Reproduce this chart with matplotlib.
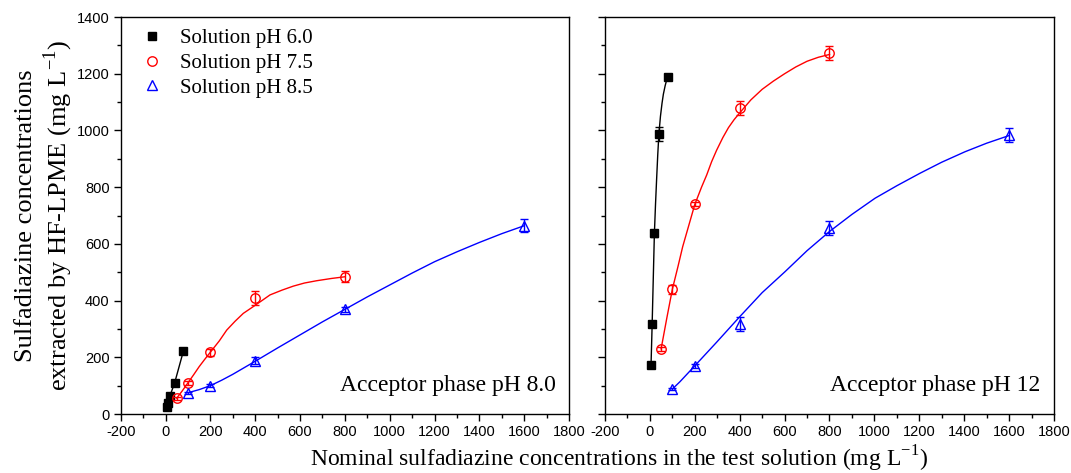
import numpy as np
import matplotlib
matplotlib.use("Agg")
import matplotlib.pyplot as plt
from matplotlib.ticker import MultipleLocator

plt.rcParams["axes.unicode_minus"] = False

# ---- measured points (x: nominal conc, y: extracted conc, e: error) ----
x_ph60 = [5, 10, 20, 40, 80]
x_ph75 = [50, 100, 200, 400, 800]
x_ph85 = [100, 200, 400, 800, 1600]

# acceptor pH 8.0
y80_ph60 = [24, 38, 65, 108, 223]
e80_ph60 = [2, 3, 4, 5, 5]
y80_ph75 = [56, 110, 217, 410, 484]
e80_ph75 = [5, 8, 12, 25, 20]
y80_ph85 = [75, 100, 188, 369, 664]
e80_ph85 = [4, 6, 12, 8, 22]

# acceptor pH 12
y12_ph60 = [172, 316, 637, 987, 1190]
e12_ph60 = [5, 8, 12, 25, 8]
y12_ph75 = [230, 440, 740, 1080, 1272]
e12_ph75 = [8, 15, 8, 25, 25]
y12_ph85 = [88, 170, 318, 655, 984]
e12_ph85 = [5, 6, 25, 25, 25]

# ---- fitted curves ----
cx80_ph60 = [5, 10, 20, 40, 80]
cy80_ph60 = [24, 38, 65, 108, 223]
cx80_ph75 = [50, 75, 100, 125, 150, 175, 200, 240, 273, 310, 347, 390, 430,
             466, 520, 570, 620, 674, 740, 800]
cy80_ph75 = [56, 82, 110, 138, 167, 193, 218, 258, 296, 327, 355, 378, 400,
             420, 437, 451, 462, 470, 478, 484]
cx80_ph85 = [100, 150, 200, 250, 300, 400, 500, 600, 700, 800, 900, 1000,
             1100, 1200, 1300, 1400, 1500, 1600]
cy80_ph85 = [75, 86, 100, 119, 140, 186, 233, 279, 325, 369, 413, 455,
             497, 537, 572, 605, 636, 664]

cx12_ph60 = [5, 10, 15, 20, 25, 30, 35, 40, 47, 54, 60, 64, 68, 72, 76, 80]
cy12_ph60 = [172, 316, 478, 637, 740, 830, 915, 987, 1050, 1096, 1128, 1143,
             1158, 1170, 1181, 1190]
cx12_ph75 = [50, 75, 100, 125, 146, 175, 200, 230, 253, 275, 297, 325, 350,
             375, 398, 425, 450, 500, 550, 600, 650, 700, 750, 800]
cy12_ph75 = [230, 337, 440, 520, 590, 670, 739, 800, 843, 890, 930, 975,
             1010, 1038, 1060, 1085, 1108, 1145, 1174, 1200, 1224, 1244,
             1258, 1268]
cx12_ph85 = [100, 134, 200, 297, 400, 500, 602, 700, 799, 900, 1003, 1100,
             1203, 1300, 1404, 1500, 1600]
cy12_ph85 = [88, 114, 170, 253, 343, 428, 502, 576, 643, 704, 761, 805,
             849, 888, 925, 955, 982]

labels = ["Solution pH 6.0", "Solution pH 7.5", "Solution pH 8.5"]
panel_titles = ["Acceptor phase pH 8.0", "Acceptor phase pH 12"]

serif = ["Liberation Serif", "DejaVu Serif"]
narrow = ["Liberation Sans Narrow", "Liberation Sans", "DejaVu Sans"]

fig = plt.figure(figsize=(10.71, 4.73), dpi=100)
ax1 = fig.add_axes([0.1127, 0.1247, 0.4186, 0.8393])
ax2 = fig.add_axes([0.5649, 0.1247, 0.4192, 0.8393])

panels = [
    (ax1, [(x_ph60, y80_ph60, e80_ph60, cx80_ph60, cy80_ph60),
           (x_ph75, y80_ph75, e80_ph75, cx80_ph75, cy80_ph75),
           (x_ph85, y80_ph85, e80_ph85, cx80_ph85, cy80_ph85)]),
    (ax2, [(x_ph60, y12_ph60, e12_ph60, cx12_ph60, cy12_ph60),
           (x_ph75, y12_ph75, e12_ph75, cx12_ph75, cy12_ph75),
           (x_ph85, y12_ph85, e12_ph85, cx12_ph85, cy12_ph85)]),
]

colors = ["black", "red", "blue"]
mstyles = [dict(marker="s", mfc="black", ms=5.8),
           dict(marker="o", mfc="none", ms=6.8),
           dict(marker="^", mfc="none", ms=7.0)]

for k, (ax, series) in enumerate(panels):
    for i, (x, y, e, cx, cy) in enumerate(series):
        ax.plot(cx, cy, color=colors[i], lw=1.0)
        ax.errorbar(x, y, yerr=e, fmt="none", ecolor=colors[i],
                    elinewidth=1.0, capsize=3, capthick=1.0)
        ax.plot(x, y, ls="none", color=colors[i], mec=colors[i], mew=1.0,
                label=labels[i], **mstyles[i])

    ax.set_xlim(-200, 1800)
    ax.set_ylim(0, 1400)
    ax.xaxis.set_major_locator(MultipleLocator(200))
    ax.xaxis.set_minor_locator(MultipleLocator(100))
    ax.yaxis.set_major_locator(MultipleLocator(200))
    ax.yaxis.set_minor_locator(MultipleLocator(100))
    ax.tick_params(which="major", direction="out", length=5, width=1,
                   labelsize=10.5, pad=3)
    ax.tick_params(which="minor", direction="out", length=2.8, width=1)
    for lab in ax.get_xticklabels() + ax.get_yticklabels():
        lab.set_family(narrow)
    for s in ax.spines.values():
        s.set_linewidth(1.0)
    ax.text(0.97, 0.045, panel_titles[k], transform=ax.transAxes,
            ha="right", va="bottom", fontsize=17, family=serif)

ax2.tick_params(axis="y", labelleft=False)

ax1.legend(loc="upper left", frameon=False, prop={"family": serif, "size": 15},
           handlelength=1.0, handletextpad=0.85, labelspacing=0.25,
           borderaxespad=0.15, bbox_to_anchor=(0.02, 1.0))

ax1.set_ylabel("Sulfadiazine concentrations\nextracted by HF-LPME (mg L$^{\\mathregular{-1}}$)",
               family=serif, fontsize=19, labelpad=1, linespacing=1.2)
fig.text(0.578, 0.03, "Nominal sulfadiazine concentrations in the test solution (mg L$^{\\mathregular{-1}}$)",
         ha="center", va="center", family=serif, fontsize=17)

fig.savefig("out.png", dpi=100)
